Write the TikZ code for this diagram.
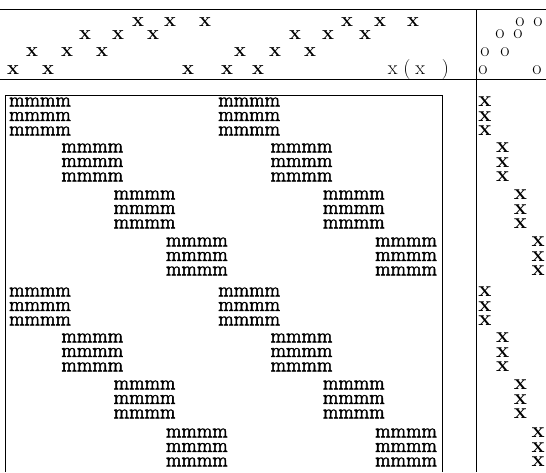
\documentclass[tikz,border=0pt]{standalone}
\usepackage{fontspec}
\newfontfamily\mfont[FakeBold=2.6]{Latin Modern Roman}
\begin{document}
\begin{tikzpicture}[x=1pt,y=-1pt,
  mrow/.style={inner sep=0pt, font=\fontsize{20}{20}\selectfont\mfont},
  bx/.style={inner sep=0pt, font=\fontsize{20}{20}\selectfont\bfseries},
  cx/.style={inner sep=0pt, font=\fontsize{22}{22}\selectfont\bfseries},
  ox/.style={inner sep=0pt, font=\fontsize{20}{20}\selectfont},
  rule/.style={line width=1pt, black}]
\useasboundingbox (0,0) rectangle (546,472);
% frame lines
\draw[rule] (0,9) -- (546,9);
\draw[rule] (0,79) -- (546,79);
\draw[rule] (476,9) -- (476,472);
\draw[rule] (5,472) -- (5,95) -- (442,95) -- (442,472);
% top row of x
\foreach \x/\y [count=\i] in {13/70,48/70,32/52,67/52,102/52,85/35,118/35,153/35,138/22,170/22,205/22,
  188/70,227/70,258/70,240/52,275/52,310/52,295/35,328/35,365/35,347/22,380/22,413/22}
  \node[bx] (t\i) at (\x,\y) {x};
\node[ox, anchor=base west] (xx) at (387.7,74.3) {x\hspace{5.8pt}(\hspace{4.8pt}x\hspace{17pt})};
% circles
\foreach \x/\y [count=\i] in {520/22,538/22,500/34,518/34,485/52,505/52,483/70,537/70}
  \node[ox] (o\i) at (\x,\y) {o};
% matrix blocks and right column
\foreach \yy [count=\r from 0] in {102,148,195,242,292,338,385,433} {
  \pgfmathtruncatemacro\c{mod(\r,4)}
  \foreach \j in {0,1,2} {
    \node[mrow] (mL-\r-\j) at ({40+52.3*\c},{\yy+14.5*\j}) {mmmm};
    \node[mrow] (mR-\r-\j) at ({40+52.3*(\c+4)},{\yy+14.5*\j}) {mmmm};
    \node[cx] (v-\r-\j) at ({485+17.7*\c},{\yy+14.5*\j}) {x};
  }
}
\end{tikzpicture}
\end{document}
